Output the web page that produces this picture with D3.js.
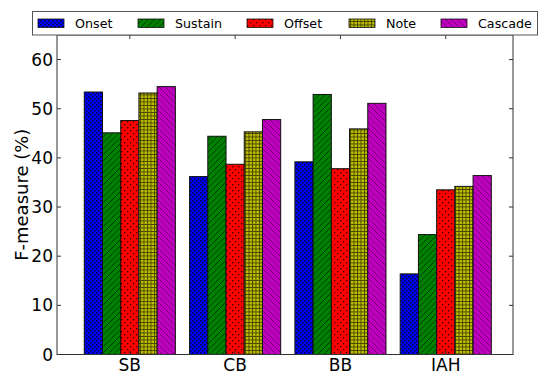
<!DOCTYPE html>
<html>
<head>
<meta charset="utf-8">
<title>F-measure</title>
<style>
  body { margin: 0; background: #fff; }
  text { font-family: "DejaVu Sans", sans-serif; fill: #000; }
</style>
</head>
<body>
<svg id="viz" width="538" height="374"></svg>
<script src="https://d3js.org/d3.v7.min.js"></script>
<script>
// data
const categories = ["SB", "CB", "BB", "IAH"];
const methods = ["Onset", "Sustain", "Offset", "Note", "Cascade"];
const onset   = [53.4, 36.2, 39.2, 16.4];
const sustain = [45.1, 44.4, 52.9, 24.4];
const offset  = [47.6, 38.7, 37.8, 33.5];
const note    = [53.2, 45.3, 45.9, 34.2];
const cascade = [54.5, 47.8, 51.1, 36.4];
const yTicks = [0, 10, 20, 30, 40, 50, 60];

const series = [onset, sustain, offset, note, cascade];
const colors = ["#0000ff", "#008000", "#ff0000", "#bfbf00", "#bf00bf"];
const patIds = ["hOnset", "hSustain", "hOffset", "hNote", "hCascade"];

const pLeft = 57, pRight = 513, pTop = 35, pBottom = 354.5;
const barW = 0.173;

const x = d3.scaleLinear().domain([-0.259, 4.071]).range([pLeft, pRight]);
const y = d3.scaleLinear().domain([0, 65]).range([pBottom, pTop]);

const svg = d3.select("#viz");
const defs = svg.append("defs");

// hatch patterns
function pattern(id, color, size, draw) {
  const p = defs.append("pattern").attr("id", id)
    .attr("patternUnits", "userSpaceOnUse")
    .attr("width", size).attr("height", size);
  p.append("rect").attr("width", size).attr("height", size).attr("fill", color);
  draw(p);
}
// dense dots
pattern("hOnset", colors[0], 4, p => {
  p.append("rect").attr("x", 0).attr("y", 0).attr("width", 1.5).attr("height", 1.5).attr("fill", "#000").attr("opacity", 0.8);
  p.append("rect").attr("x", 2).attr("y", 2).attr("width", 1.5).attr("height", 1.5).attr("fill", "#000").attr("opacity", 0.8);
});
// forward diagonal
pattern("hSustain", colors[1], 6, p => {
  p.append("path").attr("d", "M0,6 L6,0 M-1,1 L1,-1 M5,7 L7,5")
    .attr("stroke", "#000").attr("stroke-width", 0.8).attr("opacity", 0.6);
});
// sparse dots
pattern("hOffset", colors[2], 6, p => {
  p.append("rect").attr("x", 1).attr("y", 1).attr("width", 1.3).attr("height", 1.3).attr("fill", "#000").attr("opacity", 0.8);
  p.append("rect").attr("x", 4).attr("y", 4).attr("width", 1.3).attr("height", 1.3).attr("fill", "#000").attr("opacity", 0.8);
});
// grid
pattern("hNote", colors[3], 3.5, p => {
  p.append("path").attr("d", "M0,0.5 L3.5,0.5 M0.5,0 L0.5,3.5")
    .attr("stroke", "#000").attr("stroke-width", 0.9).attr("opacity", 0.65);
});
// back diagonal
pattern("hCascade", colors[4], 6, p => {
  p.append("path").attr("d", "M0,0 L6,6 M5,-1 L7,1 M-1,5 L1,7")
    .attr("stroke", "#000").attr("stroke-width", 0.8).attr("opacity", 0.45);
});

// bars
const g = svg.append("g");
series.forEach((vals, j) => {
  g.selectAll(".b" + j)
    .data(vals)
    .enter().append("rect")
    .attr("class", "b" + j)
    .attr("x", (d, i) => x(i + j * barW))
    .attr("y", d => y(d))
    .attr("width", x(barW) - x(0))
    .attr("height", d => y(0) - y(d))
    .attr("fill", "url(#" + patIds[j] + ")")
    .attr("stroke", "#111")
    .attr("stroke-width", 1);
});

// frame
svg.append("rect")
  .attr("x", pLeft).attr("y", pTop)
  .attr("width", pRight - pLeft).attr("height", pBottom - pTop)
  .attr("fill", "none").attr("stroke", "#333").attr("stroke-width", 1);

// y axis ticks (inward, both sides)
const yAx = svg.append("g");
yTicks.forEach(t => {
  yAx.append("line").attr("x1", pLeft).attr("x2", pLeft + 4)
    .attr("y1", y(t)).attr("y2", y(t)).attr("stroke", "#333");
  yAx.append("line").attr("x1", pRight).attr("x2", pRight - 4)
    .attr("y1", y(t)).attr("y2", y(t)).attr("stroke", "#333");
  yAx.append("text").attr("x", pLeft - 4).attr("y", y(t))
    .attr("dy", "0.36em").attr("text-anchor", "end")
    .attr("font-size", "17px").text(t);
});

// x axis ticks at group centres
const xAx = svg.append("g");
categories.forEach((c, i) => {
  const cx = x(i + 2.5 * barW);
  xAx.append("line").attr("x1", cx).attr("x2", cx)
    .attr("y1", pBottom).attr("y2", pBottom - 4).attr("stroke", "#333");
  xAx.append("line").attr("x1", cx).attr("x2", cx)
    .attr("y1", pTop).attr("y2", pTop + 4).attr("stroke", "#333");
  xAx.append("text").attr("x", cx).attr("y", 370.5)
    .attr("text-anchor", "middle").attr("font-size", "17px").text(c);
});

// y label
svg.append("text")
  .attr("transform", `translate(28,${(pTop + pBottom) / 2}) rotate(-90)`)
  .attr("text-anchor", "middle").attr("font-size", "18px")
  .text("F-measure (%)");

// legend
const leg = svg.append("g");
leg.append("rect").attr("x", 32.5).attr("y", 11.5)
  .attr("width", 505).attr("height", 23.5)
  .attr("fill", "#fff").attr("stroke", "#555");
const legX = [38, 138, 247, 349, 441];
methods.forEach((m, j) => {
  leg.append("rect").attr("x", legX[j]).attr("y", 19)
    .attr("width", 26).attr("height", 8.5)
    .attr("fill", "url(#" + patIds[j] + ")")
    .attr("stroke", "#111").attr("stroke-width", 0.8);
  leg.append("text").attr("x", legX[j] + 37).attr("y", 28)
    .attr("font-size", "12.7px").text(m);
});
</script>
</body>
</html>
